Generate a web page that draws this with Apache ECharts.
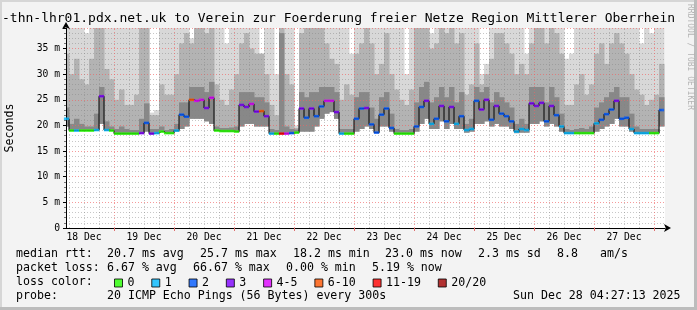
<!DOCTYPE html>
<html><head><meta charset="utf-8">
<script src="https://cdn.jsdelivr.net/npm/echarts@6/dist/echarts.min.js"></script>
<style>html,body{margin:0;padding:0;background:#f3f3f3}#c{width:697px;height:310px}</style>
</head><body><div id="c"></div>
<script>
// ---- data (hours relative to 19 Dec 00:00, one sample every 2 h) ----
const startHour = -19, stepHours = 2;
const dayLabels = ['18 Dec','19 Dec','20 Dec','21 Dec','22 Dec','23 Dec','24 Dec','25 Dec','26 Dec','27 Dec'];
const yTickLabels = ['0','5 m','10 m','15 m','20 m','25 m','30 m','35 m'];

const median = [
 21.3,19.0,19.0,19.0,19.0,19.0,19.1,25.7,19.1,19.0,
 18.4,18.4,18.4,18.4,18.4,18.5,20.5,18.4,18.5,18.8,
 18.5,18.5,19.0,22.1,21.7,25.0,24.8,25.0,23.4,25.4,
 19.0,18.9,18.9,18.9,18.8,24.0,23.6,24.2,22.7,22.8,
 21.8,18.4,18.4,18.4,18.4,18.5,18.6,23.3,21.5,23.3,
 21.8,23.7,24.8,24.8,22.6,18.4,18.4,18.4,21.3,23.3,
 23.4,20.2,18.6,22.1,23.3,19.5,18.4,18.4,18.4,18.4,
 19.8,23.6,24.8,20.3,21.3,23.8,20.8,23.6,20.3,21.8,
 19.1,19.3,24.8,23.1,25.0,21.1,23.8,22.3,21.8,20.8,
 18.8,19.3,19.1,24.3,23.8,24.4,20.8,23.8,22.0,19.8,
 18.5,18.5,18.5,18.5,18.5,18.5,20.4,21.1,22.2,23.1,
 24.8,21.3,21.5,19.3,18.5,18.5,18.5,18.5,18.5,23.0];

const lossCount = [
 1,0,1,0,0,0,1,3,1,0,
 0,0,0,0,0,3,2,3,1,0,
 0,0,1,2,2,6,4,4,3,4,
 0,0,0,0,0,3,3,4,3,6,
 3,1,0,11,4,2,0,3,2,3,
 2,2,4,4,3,1,0,0,2,2,
 3,2,2,2,2,2,0,0,0,0,
 2,2,3,1,2,3,2,3,1,2,
 1,1,2,3,3,2,3,2,2,2,
 1,1,1,3,3,3,2,3,2,1,
 1,1,0,0,0,0,1,2,2,2,
 3,2,2,1,1,1,1,0,0,2];

const smokeMin = [
 19.8,18.9,18.9,18.9,18.9,18.9,19.0,20.3,19.0,18.9,
 18.3,18.3,18.3,18.3,18.3,18.4,18.8,18.3,18.4,18.7,
 18.4,18.4,18.8,19.3,19.8,21.3,21.3,21.3,20.8,20.3,
 18.9,18.8,18.8,18.8,18.7,19.8,20.3,20.3,19.8,19.8,
 19.8,18.3,18.3,18.3,18.3,18.4,18.5,18.8,18.8,18.8,
 19.8,21.3,22.3,22.6,21.3,18.3,18.3,18.3,18.8,19.3,
 19.8,19.3,18.5,19.8,19.8,18.8,18.3,18.3,18.3,18.3,
 18.8,20.3,21.3,19.3,19.3,20.8,19.3,20.3,19.3,19.3,
 18.6,18.8,20.3,20.3,20.8,19.8,20.3,19.8,19.8,19.3,
 18.5,18.6,18.6,20.3,20.3,20.8,19.8,20.3,19.8,18.8,
 18.4,18.4,18.4,18.4,18.4,18.4,18.8,19.3,19.8,20.3,
 21.3,19.8,19.8,18.8,18.4,18.4,18.4,18.4,18.4,19.8];

const smokeDark = [
 23.5,20.3,21.3,20.3,19.8,19.8,22.3,27.5,20.8,19.8,
 19.3,19.8,19.3,19.1,19.1,21.3,24.3,19.3,19.3,19.8,
 19.1,19.3,20.3,24.5,24.5,27.5,27.5,27.5,26.5,28.5,
 19.8,19.5,19.5,19.6,19.8,26.5,26.5,26.5,25.5,25.5,
 24.5,19.3,19.1,38.0,19.8,19.3,19.2,26.5,25.5,26.5,
 26.5,27.5,27.5,27.5,26.5,19.3,19.3,19.3,25.5,26.5,
 26.5,23.5,21.3,25.5,26.5,22.3,19.3,19.1,19.1,19.3,
 24.5,27.5,28.5,24.5,25.5,27.5,25.5,27.5,24.5,26.5,
 20.3,21.3,27.5,26.5,27.5,24.5,26.5,25.5,24.5,23.5,
 20.3,21.3,20.3,27.5,27.5,27.5,24.5,27.5,25.5,22.3,
 19.3,19.1,19.3,19.5,19.3,19.8,23.5,24.5,25.5,26.5,
 27.5,25.5,25.5,22.3,19.8,19.3,19.3,19.3,19.3,25.5];

const smokeMid = [
 34,30,33,29,28,33,40,40,31,29,
 25,27,24,24,26,40,40,22,22,28,
 26,26,30,36,38,36,40,40,38,40,
 28,25,24,27,30,36,38,35,34,34,
 30,24,22,40,30,28,19.5,38,40,40,
 40,40,36,33,32,25,28,26,34,36,
 40,36,30,32,38,30,27,25,24,27,
 40,40,40,35,36,40,38,40,36,38,
 26,28,36,28,30,33,38,38,36,34,
 30,32,30,36,40,40,36,40,38,34,
 24,24,28,30,26,28,34,36,32,36,
 38,36,34,30,27,26,24,25,26,32];

const smokeMax = [
 40,40,40,40,38,40,40,40,40,40,
 40,40,40,40,40,40,40,22.5,23,40,
 40,40,40,40,40,37,40,40,40,40,
 40,40,36,40,40,40,40,40,40,34,
 40,40,30,40,40,40,20,40,40,40,
 40,40,40,40,40,40,40,34,40,40,
 40,40,40,40,40,40,40,40,30,40,
 40,40,40,38,40,40,40,40,40,40,
 40,40,40,30,32,40,40,40,40,40,
 40,40,34,40,40,40,40,40,40,40,
 33,34,40,40,40,40,40,40,40,40,
 40,40,40,40,40,36,40,38,40,40];

const lossBuckets = [
 {name:'0', lo:0, hi:0, color:'#26ff00'},
 {name:'1', lo:1, hi:1, color:'#00b8ff'},
 {name:'2', lo:2, hi:2, color:'#0059ff'},
 {name:'3', lo:3, hi:3, color:'#7e00ff'},
 {name:'4-5', lo:4, hi:5, color:'#dd00ff'},
 {name:'6-10', lo:6, hi:10, color:'#ff5500'},
 {name:'11-19', lo:11, hi:19, color:'#ff0000'},
 {name:'20/20', lo:20, hi:20, color:'#a10000'}];

// ---- build ----
const MONO = '"DejaVu Sans Mono", monospace';
const times = median.map((_, i) => startHour + i * stepHours);
const xMin = -19.2, xMax = 220.4;
const noonHours = dayLabels.map((_, k) => -12 + 24 * k);
const midnightHours = dayLabels.map((_, k) => 24 * k);
const gridHours = [];
for (let h = -18; h <= 216; h += 6) gridHours.push(h);

function smokeLayer(name, lowArr, highArr, color) {
  return {
    type:'custom', name, silent:true, z:2, animation:false,
    encode:{x:0, y:[1,2]},
    data: lowArr.map((v, i) => [times[i], v, highArr[i]]),
    renderItem(params, api) {
      const t = api.value(0);
      const a = api.coord([t - stepHours / 2, api.value(2)]);
      const b = api.coord([t + stepHours / 2, api.value(1)]);
      const cs = params.coordSys;
      const r = echarts.graphic.clipRectByRect(
        {x:a[0], y:a[1], width:b[0] - a[0] + 0.5, height:b[1] - a[1]},
        {x:cs.x, y:cs.y, width:cs.width, height:cs.height});
      return r ? {type:'rect', shape:r, style:{fill:color}} : null;
    }
  };
}

const series = [
 smokeLayer('smokeLight', smokeMin, smokeMax, '#d8d8d8'),
 smokeLayer('smokeMid', smokeMin, smokeMid, '#b3b3b3'),
 smokeLayer('smokeDark', smokeMin, smokeDark, '#888888'),
 {type:'line', name:'median', data: median.map((v, i) => [times[i], v]), step:'middle', symbol:'none', silent:true,
   lineStyle:{color:'#000', width:1}, z:6, animation:false,
   markLine: {silent:true, symbol:['none','none'], label:{show:false}, animation:false, z:5,
     data: gridHours.map(h => ({xAxis: h, lineStyle: {
        color: h % 24 === 0 ? 'rgba(240,100,100,0.65)' : 'rgba(130,130,130,0.45)', type:[1,2], width:1}}))}}
];
lossBuckets.forEach(b => {
  series.push({type:'scatter', name:b.name, symbol:'rect', symbolSize:[5.2, 2.6], silent:true,
    itemStyle:{color:b.color}, z:7, animation:false,
    data: median.map((v, i) => [times[i], v, lossCount[i]]).filter(d => d[2] >= b.lo && d[2] <= b.hi)});
});

const txt = (text, x, y, size) => ({type:'text', x, y, silent:true,
  style:{text, font: size + 'px ' + MONO, fill:'#000', textVerticalAlign:'middle'}});

const graphic = [
 {type:'rect', shape:{x:0,y:0,width:697,height:2}, style:{fill:'#d6d6d6'}, silent:true},
 {type:'rect', shape:{x:0,y:0,width:2,height:310}, style:{fill:'#d6d6d6'}, silent:true},
 {type:'rect', shape:{x:694,y:0,width:3,height:310}, style:{fill:'#bcbcbc'}, silent:true},
 {type:'rect', shape:{x:0,y:307,width:697,height:3}, style:{fill:'#bcbcbc'}, silent:true},
 txt('-thn-lhr01.pdx.net.uk to Verein zur Foerderung freier Netze Region Mittlerer Oberrhein', 2, 18.5, 13),
 {type:'text', x:10, y:128, rotation:Math.PI / 2, silent:true,
   style:{text:'Seconds', font:'11.6px ' + MONO, fill:'#000', textAlign:'center', textVerticalAlign:'middle'}},
 {type:'text', x:690, y:4, rotation:-Math.PI / 2, silent:true,
   style:{text:'RRDTOOL / TOBI OETIKER', font:'8px ' + MONO, fill:'#b4b4b4', textAlign:'left', textVerticalAlign:'middle'}},
 txt('median rtt:', 16, 254, 11.6),
 txt('20.7 ms avg', 107, 254, 11.6),
 txt('25.7 ms max', 200, 254, 11.6),
 txt('18.2 ms min', 293, 254, 11.6),
 txt('23.0 ms now', 385, 254, 11.6),
 txt('2.3 ms sd', 478, 254, 11.6),
 txt('8.8', 557, 254, 11.6),
 txt('am/s', 600, 254, 11.6),
 txt('packet loss:', 16, 268, 11.6),
 txt('6.67 % avg', 107, 268, 11.6),
 txt('66.67 % max', 193, 268, 11.6),
 txt('0.00 % min', 286, 268, 11.6),
 txt('5.19 % now', 372, 268, 11.6),
 txt('loss color:', 16, 282, 11.6),
 txt('probe:', 16, 296, 11.6),
 txt('20 ICMP Echo Pings (56 Bytes) every 300s', 107, 296, 11.6),
 txt('Sun Dec 28 04:27:13 2025', 513, 296, 11.6)
];

const chart = echarts.init(document.getElementById('c'), null, {renderer:'canvas'});
chart.setOption({
  backgroundColor:'#f3f3f3',
  animation:false,
  grid:{left:66, right:32, top:28, bottom:82, show:true, backgroundColor:'#ffffff', borderWidth:0, containLabel:false},
  legend:{left:109, top:272, itemWidth:8, itemHeight:8, itemGap:16.8, icon:'rect', selectedMode:false,
    textStyle:{fontFamily:MONO, fontSize:11.6, color:'#000'},
    itemStyle:{borderColor:'#000', borderWidth:1},
    data: lossBuckets.map(b => b.name)},
  xAxis:{type:'value', min:xMin, max:xMax, z:4,
    axisLine:{show:true, onZero:false, lineStyle:{color:'#000', width:1}, symbol:['none','arrow'], symbolSize:[6,7], symbolOffset:[0,6]},
    axisTick:{show:true, customValues: midnightHours, length:3, lineStyle:{color:'#e07070'}},
    axisLabel:{customValues: noonHours, fontFamily:MONO, fontSize:9.7, color:'#000', margin:4,
      formatter: v => dayLabels[Math.round((v - noonHours[0]) / 24)] || ''},
    splitLine:{show:false}},
  yAxis:{type:'value', min:0, max:39, interval:5, z:4,
    axisLine:{show:true, onZero:false, lineStyle:{color:'#000', width:1}, symbol:['none','arrow'], symbolSize:[6,7], symbolOffset:[0,6]},
    axisTick:{show:true, length:3, lineStyle:{color:'#000'}},
    minorTick:{show:true, splitNumber:5, length:2, lineStyle:{color:'#777'}},
    axisLabel:{fontFamily:MONO, fontSize:9.7, color:'#000', margin:6, showMaxLabel:false,
      formatter: v => yTickLabels[Math.round(v / 5)] || ''},
    splitLine:{show:true, lineStyle:{color:'rgba(240,100,100,0.65)', type:[1,2], width:1}},
    minorSplitLine:{show:true, lineStyle:{color:'rgba(130,130,130,0.45)', type:[1,2], width:1}}},
  series,
  graphic
});
</script></body></html>
